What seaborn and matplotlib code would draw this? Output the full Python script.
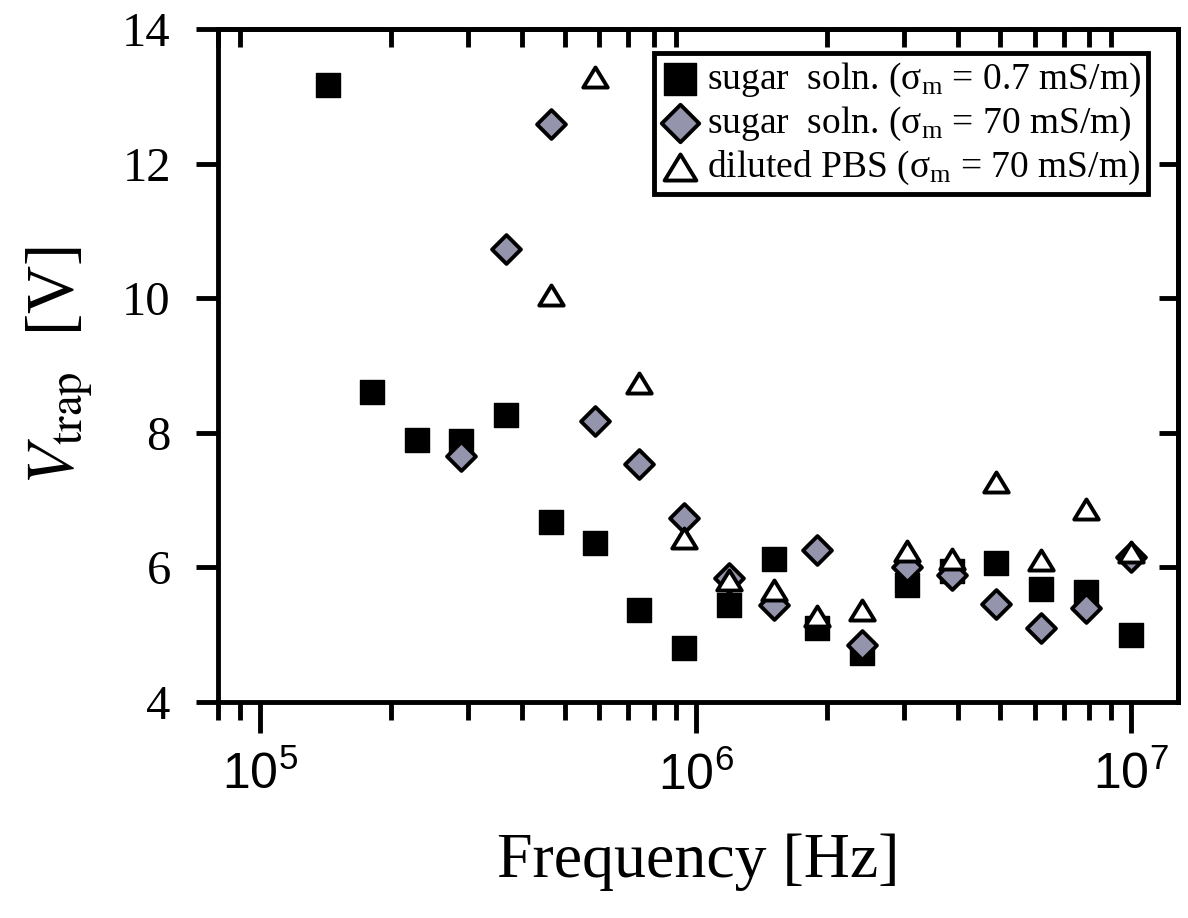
import numpy as np
import seaborn as sns
import matplotlib.pyplot as plt
from matplotlib.path import Path
from matplotlib.ticker import NullFormatter, LogLocator, FixedLocator

## frequencies [Hz] shared by all three series
freq = [1.43e5, 1.81e5, 2.29e5, 2.89e5, 3.67e5, 4.66e5, 5.88e5, 7.42e5, 9.41e5,
        1.19e6, 1.51e6, 1.90e6, 2.41e6, 3.06e6, 3.88e6, 4.90e6, 6.21e6, 7.88e6, 1.0e7]

nan = np.nan
## trapping voltages [V]
v_sugar_low = [13.17, 8.61, 7.89, 7.88, 8.26, 6.67, 6.36, 5.37, 4.80,
               5.44, 6.12, 5.10, 4.73, 5.74, 5.95, 6.07, 5.68, 5.63, 5.00]
v_sugar_high = [nan, nan, nan, 7.66, 10.73, 12.59, 8.18, 7.54, 6.73,
                5.84, 5.44, 6.26, 4.85, 6.01, 5.89, 5.46, 5.10, 5.40, 6.15]
v_pbs = [nan, nan, nan, nan, nan, 10.05, 13.29, 8.74, 6.44,
         5.81, 5.66, 5.28, 5.37, 6.24, 6.12, 7.27, 6.11, 6.87, 6.23]

labels = [r"sugar  soln. ($\mathregular{σ_m}$ = 0.7 mS/m)",
          r"sugar  soln. ($\mathregular{σ_m}$ = 70 mS/m)",
          r"diluted PBS ($\mathregular{σ_m}$ = 70 mS/m)"]

sns.set_style("ticks")
plt.rcParams['font.family'] = ['Liberation Serif', 'DejaVu Serif']
plt.rcParams['mathtext.fontset'] = 'stix'
for k in ['text.color', 'axes.labelcolor', 'xtick.color', 'ytick.color', 'axes.edgecolor']:
    plt.rcParams[k] = 'black'

fig = plt.figure(figsize=(11.88, 9.18), dpi=100)
ax = fig.add_axes([218 / 1188, 1 - 702 / 918, 960 / 1188, 673 / 918])
ax.set_xscale('log')

## open triangle, a bit wider than tall
tri = Path([(-1, -0.82), (1, -0.82), (0, 0.82), (-1, -0.82)], closed=True)

sns.scatterplot(x=freq, y=v_sugar_low, marker='s', s=310, color='black',
                edgecolor='black', linewidth=1, label=labels[0], ax=ax, zorder=3)
sns.scatterplot(x=freq, y=v_sugar_high, marker='D', s=215, color='#9494ac',
                edgecolor='black', linewidth=2.8, label=labels[1], ax=ax, zorder=4)
sns.scatterplot(x=freq, y=v_pbs, marker=tri, s=310, color='white',
                edgecolor='black', linewidth=2.8, label=labels[2], ax=ax, zorder=5)

ax.set_xlim(8.0e4, 1.28e7)
ax.set_ylim(4, 14)
ax.set_yticks([4, 6, 8, 10, 12, 14])
ax.set_yticklabels(['4', '6', '8', '10', '12', '14'], fontsize=35)
ax.set_xticks([1e5, 1e6, 1e7])
ax.set_xticklabels([r'$\mathregular{10^{5}}$', r'$\mathregular{10^{6}}$', r'$\mathregular{10^{7}}$'],
                   fontsize=36, family='Liberation Sans')
ax.xaxis.set_minor_locator(LogLocator(base=10, subs=np.arange(2, 10), numticks=20))
ax.xaxis.set_minor_formatter(NullFormatter())

for sp in ax.spines.values():
    sp.set_linewidth(3.5)
    sp.set_color('black')

ax.tick_params(axis='x', which='major', direction='out', length=22, width=3.5,
               top=False, bottom=True, pad=14)
ax.tick_params(axis='x', which='minor', direction='out', length=13, width=3.5,
               top=False, bottom=True)
ax.tick_params(axis='y', which='major', direction='out', length=16, width=3.5,
               left=True, right=False, pad=18)

## inward ticks on the top and right edges
top = ax.secondary_xaxis('top')
top.xaxis.set_major_locator(FixedLocator([]))
top.xaxis.set_minor_locator(LogLocator(base=10, subs=np.arange(2, 10), numticks=20))
top.xaxis.set_minor_formatter(NullFormatter())
top.tick_params(which='minor', direction='in', length=13, width=3.5)
top.spines['top'].set_linewidth(3.5)

right = ax.secondary_yaxis('right')
right.set_yticks([6, 8, 10, 12])
right.set_yticklabels([])
right.tick_params(direction='in', length=14, width=3.5)
right.spines['right'].set_linewidth(3.5)

ax.set_xlabel('Frequency [Hz]', fontsize=46, labelpad=24)
ax.set_ylabel(r'$V_{\mathrm{trap}}$  [V]', fontsize=48, labelpad=20)

leg = ax.legend(loc='upper right', bbox_to_anchor=(0.969, 0.964), borderaxespad=0,
                frameon=True, fancybox=False, edgecolor='black', fontsize=27,
                handletextpad=0.2, labelspacing=0.15, borderpad=0.2,
                handlelength=1.0, framealpha=1, markerscale=1.3)
leg.get_frame().set_linewidth(3.5)

fig.savefig('out.png', dpi=100)
